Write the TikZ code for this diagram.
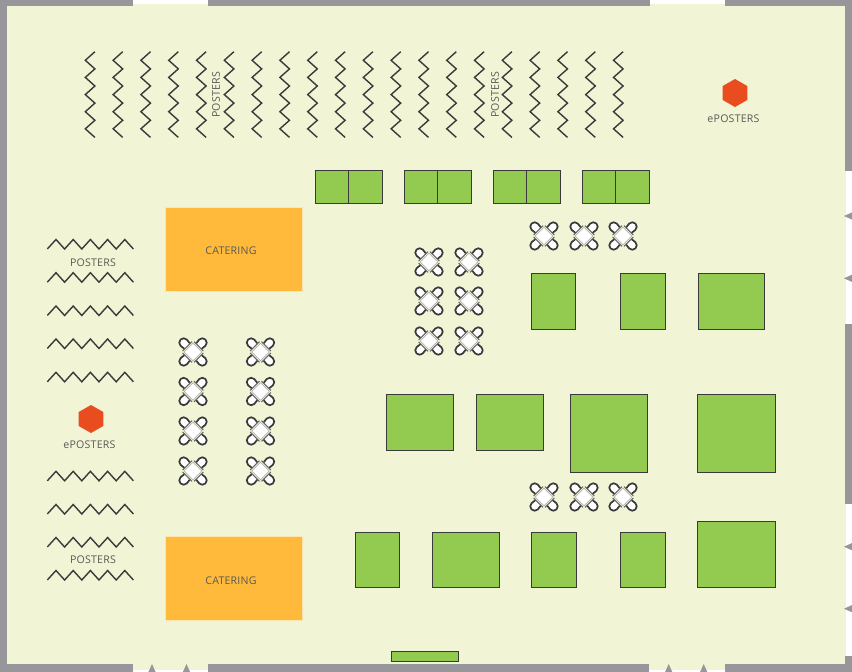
\documentclass[tikz,border=0pt]{standalone}
\usepackage{fontspec}
\setmainfont{Open Sans}[LetterSpace=2]
\definecolor{wallc}{HTML}{96969B}
\definecolor{floorc}{HTML}{F1F4D5}
\definecolor{greenc}{HTML}{92CB50}
\definecolor{orangec}{HTML}{FFBA3B}
\definecolor{hexc}{HTML}{E94C1F}
\definecolor{inkc}{HTML}{3A3A3A}
\definecolor{textc}{HTML}{5A5A55}
\tikzset{
  wall/.style={fill=wallc,draw=none},
  booth/.style={fill=greenc,draw=inkc,line width=1pt},
  cater/.style={fill=orangec,draw=white!60!orangec,line width=0.8pt},
  zig/.style={draw=inkc,line width=1.4pt,line join=miter},
  label/.style={text=textc,font=\fontsize{10.6}{12}\selectfont,inner sep=0pt},
  tri/.style={fill=wallc,draw=none},
  hexa/.style={fill=hexc,draw=none},
  tablechairs/.pic={
    \begin{scope}[rotate=45]
      \foreach \a in {0,90,180,270}{
        \begin{scope}[rotate=\a]
          \draw[draw=inkc,fill=white,line width=1.7pt]
            (-3.8,8) -- (-4.4,13.2) arc[start angle=180,end angle=0,radius=4.4] -- (3.8,8);
        \end{scope}
      }
      \fill[floorc] (-7.4,-7.4) rectangle (7.4,7.4);
      \draw[draw=black!35,fill=white,line width=0.5pt] (-6.2,-6.2) rectangle (6.2,6.2);
      \foreach \a in {0,90,180,270}{
        \draw[rotate=\a,draw=black!60,line width=1pt] (-6.6,8) -- (6.6,8);
      }
    \end{scope}
  }
}
\begin{document}
\begin{tikzpicture}[x=1pt,y=-1pt]
\useasboundingbox (0,0) rectangle (852,672);
\fill[white] (0,0) rectangle (852,672);
% floor
\fill[floorc] (7,4) rectangle (846,670);
% walls
\fill[wall] (0,0) rectangle (7,672);
\fill[wall] (0,0) rectangle (133,6);
\fill[wall] (208,0) rectangle (650,6);
\fill[wall] (725,0) rectangle (852,6);
\fill[wall] (0,664) rectangle (133,672);
\fill[wall] (208,664) rectangle (649,672);
\fill[wall] (725,664) rectangle (852,672);
\fill[wall] (845,0) rectangle (852,171);
\fill[wall] (845,324) rectangle (852,504);
\fill[wall] (845,656) rectangle (852,672);
% door arrows
\foreach \x in {152,186.5,668.7,703.7}{
  \fill[tri] (\x,664) -- (\x+3.6,672) -- (\x-3.6,672) -- cycle;
}
\foreach \y in {216,278.3,546.7,608.7}{
  \fill[tri] (844,\y) -- (852,\y-3.6) -- (852,\y+3.6) -- cycle;
}
% vertical poster zigzags
\foreach \i in {0,...,19}{
  \pgfmathsetmacro{\xl}{85.3+27.8*\i}
  \pgfmathsetmacro{\xr}{\xl+9.6}
  \draw[zig] (\xr,51.7) -- (\xl,60.3) -- (\xr,68.9) -- (\xl,77.4) -- (\xr,86) -- (\xl,94.6)
     -- (\xr,103.1) -- (\xl,111.7) -- (\xr,120.3) -- (\xl,128.8) -- (\xr,137.4);
}
% horizontal poster zigzags
\foreach \y in {239.5,272.7,306,339,372.3,471.3,504.5,537.5,570.5}{
  \draw[zig] (47.3,\y+9.5) -- (56,\y) -- (64.6,\y+9.5) -- (73.2,\y) -- (81.8,\y+9.5) -- (90.4,\y)
     -- (99,\y+9.5) -- (107.6,\y) -- (116.2,\y+9.5) -- (124.8,\y) -- (133.4,\y+9.5);
}
% top booth pairs
\foreach \x in {315.5,404.5,493.5,582.5}{
  \draw[booth] (\x,170) rectangle (\x+33.3,203.5);
  \draw[booth] (\x+33.3,170) rectangle (\x+66.7,203.5);
}
% single booths
\draw[booth] (531.5,273.7) rectangle (575.7,329);
\draw[booth] (620.7,273.7) rectangle (665,329);
\draw[booth] (698,273.7) rectangle (764.7,329);
\draw[booth] (386.5,394.3) rectangle (453,450);
\draw[booth] (476.7,394.3) rectangle (543.7,450);
\draw[booth] (570,394.3) rectangle (647.7,472);
\draw[booth] (697.7,394.3) rectangle (775,472);
\draw[booth] (355,532) rectangle (399.5,587.7);
\draw[booth] (432.7,532) rectangle (499.3,587.7);
\draw[booth] (531.7,532) rectangle (576.3,587.7);
\draw[booth] (620.7,532) rectangle (665.3,587.7);
\draw[booth] (697.7,521) rectangle (775,587.7);
\draw[booth] (391,651) rectangle (458,661.7);
% catering
\draw[cater] (165.7,207.5) rectangle (302,291.2);
\draw[cater] (165.7,536.5) rectangle (302,620.2);
\node[label] (cat1) at (231,250.5) {CATERING};
\node[label] (cat2) at (231,580.5) {CATERING};
% tables with chairs
\foreach \x/\y in {429/262,469/262,429/301,469/301,429/341,469/341,
  544/236,584/236,623/236,544/497,584/497,623/497,
  193/352,260.5/352,193/391.5,260.5/391.5,193/431,260.5/431,193/471,260.5/471}{
  \pic at (\x,\y) {tablechairs};
}
% hexagons
\fill[hexa] (735,79) -- (747.3,86) -- (747.3,100) -- (735,107) -- (722.7,100) -- (722.7,86) -- cycle;
\fill[hexa] (91,405) -- (103.3,412) -- (103.3,426) -- (91,433) -- (78.7,426) -- (78.7,412) -- cycle;
% labels
\node[label] (ep1) at (733.5,118.5) {ePOSTERS};
\node[label] (ep2) at (89.5,444.5) {ePOSTERS};
\node[label] (p1) at (93,262.5) {POSTERS};
\node[label] (p2) at (93,559.5) {POSTERS};
\node[label,rotate=90] (p3) at (216,95) {POSTERS};
\node[label,rotate=90] (p4) at (495,95) {POSTERS};
\end{tikzpicture}
\end{document}
